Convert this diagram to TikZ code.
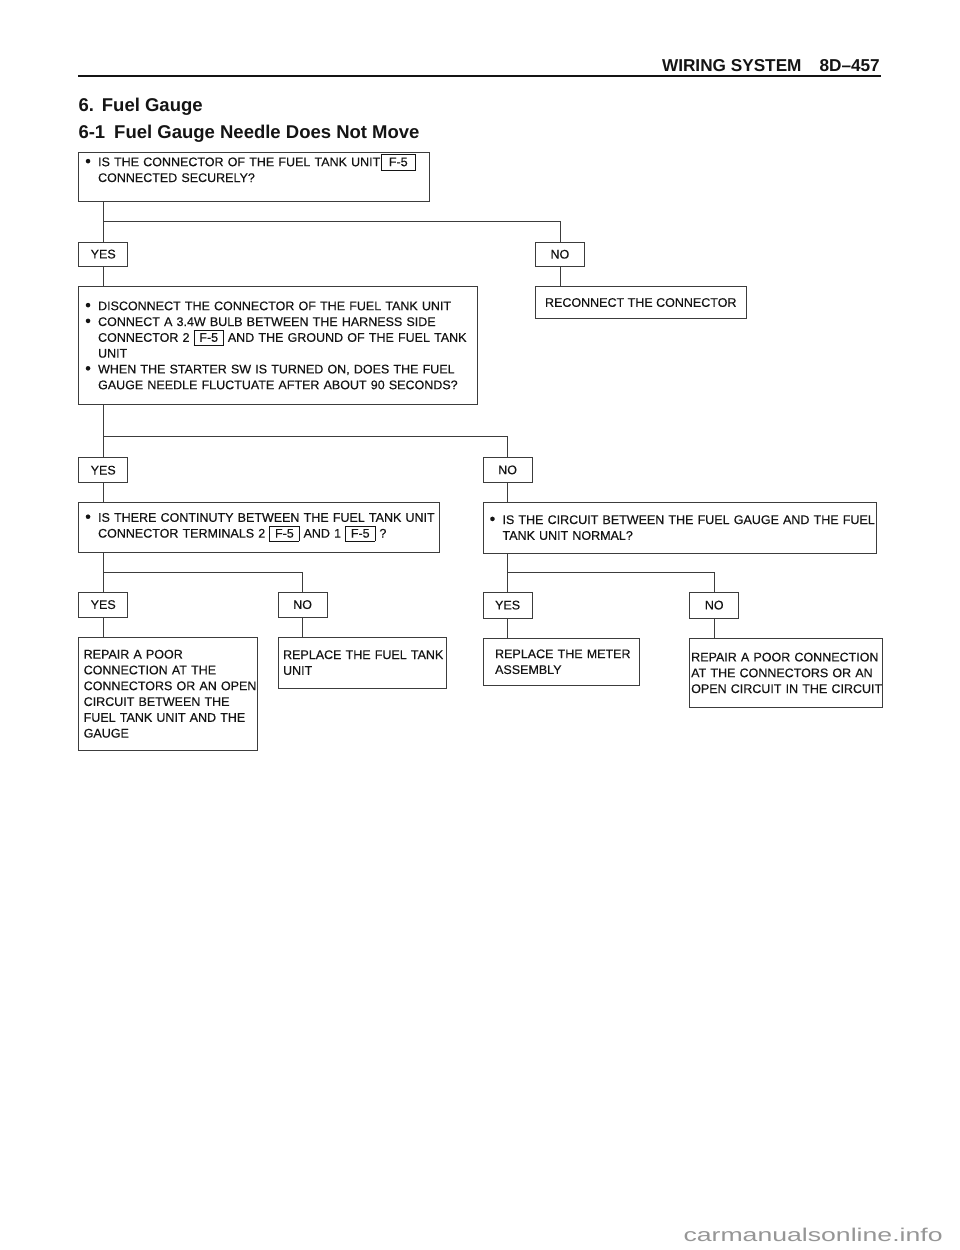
\documentclass[tikz,border=0pt]{standalone}
\usepackage{fontspec}
\setmainfont{Liberation Sans}
\newfontface\boxface{Liberation Sans}[FakeBold=0.3]
\newfontfamily\markfont[FakeStretch=1.44]{Liberation Sans}
\definecolor{fcLine}{RGB}{60,60,60}
\definecolor{fcText}{RGB}{20,20,20}
\definecolor{fcMark}{RGB}{150,150,150}

\newcommand{\boxfont}{\boxface\fontsize{12.5}{15.8}\selectfont}
\newcommand{\fcon}[2][25.8pt]{{\fboxsep=1.5pt\fboxrule=0.6pt\fbox{\rule[-2pt]{0pt}{12pt}\makebox[#1]{#2}}}}
\newcommand{\bul}[1]{\mbox{\makebox[14.4pt][l]{\hspace{1.5pt}\raisebox{-0.3pt}{\scalebox{1.3}{\textbullet}}}#1}}
\newcommand{\ind}[1]{\mbox{\hspace*{14.4pt}#1}}

\tikzset{
  fcbox/.style={draw=fcLine, line width=0.8pt, anchor=north west, inner xsep=5pt, inner ysep=0pt, align=left, font=\boxfont, text=fcText},
  fcans/.style={draw=fcLine, line width=0.8pt, anchor=north west, minimum width=49pt, minimum height=25pt, inner sep=0pt, font=\boxfont, text=fcText},
  fcline/.style={draw=fcLine, line width=0.8pt},
}

\begin{document}
\begin{tikzpicture}[x=1pt, y=-1pt]
  \fill[white] (0,0) rectangle (960,1250);
  \useasboundingbox (0,0) rectangle (960,1250);

  % Page header and titles
  \node[anchor=base east, inner sep=0pt, text=fcText, font=\bfseries\fontsize{17.2}{19}\selectfont] (head) at (880,71.7) {WIRING SYSTEM\hspace{18pt}8D–457};
  \draw[fcText, line width=2pt] (78.3,76) -- (880.7,76);
  \node[anchor=base west, inner sep=0pt, text=fcText, font=\bfseries\fontsize{18.5}{20}\selectfont] (sec) at (78.3,111.7) {6.\hspace{8pt}Fuel Gauge};
  \node[anchor=base west, inner sep=0pt, text=fcText, font=\bfseries\fontsize{18.5}{20}\selectfont] (sub) at (78.3,138.3) {6-1\hspace{9pt}Fuel Gauge Needle Does Not Move};

  % Step 1: connector check
  \node[fcbox, text width=340.7pt, minimum height=49.7pt] (q1) at (78.3,151.7) {\bul{IS THE CONNECTOR OF THE FUEL TANK UNIT\hspace{0.5pt}\fcon[30.8pt]{F-5}}\\ \ind{CONNECTED SECURELY?}\\[2pt]\mbox{}};
  \node[fcans, minimum height=24pt] (y1) at (78.3,241.7) {YES};
  \node[fcans, minimum height=24.3pt] (n1) at (535,241.7) {NO};
  \node[fcans, minimum width=210.7pt, minimum height=32.3pt] (r1) at (535,286) {RECONNECT THE CONNECTOR};
  \coordinate (b1) at (0,221);
  \draw[fcline] (q1.south -| y1.north) -- (y1.north);
  \draw[fcline] (b1 -| y1.north) -| (n1.north);
  \draw[fcline] (y1.south) -- (y1.south |- r1.north);
  \draw[fcline] (n1.south) -- (r1.north -| n1.south);

  % Step 2: bulb test
  \node[fcbox, text width=389pt, minimum height=118pt] (q2) at (78.3,286) {\bul{DISCONNECT THE CONNECTOR OF THE FUEL TANK UNIT}\\
    \bul{CONNECT A 3.4W BULB BETWEEN THE HARNESS SIDE}\\
    \ind{CONNECTOR 2 \fcon{F-5} AND THE GROUND OF THE FUEL TANK}\\
    \ind{UNIT}\\
    \bul{WHEN THE STARTER SW IS TURNED ON, DOES THE FUEL}\\
    \ind{GAUGE NEEDLE FLUCTUATE AFTER ABOUT 90 SECONDS?}};
  \node[fcans] (y2) at (78.3,457.3) {YES};
  \node[fcans, minimum height=25.6pt] (n2) at (482.7,456.7) {NO};
  \coordinate (b2) at (0,436.7);
  \draw[fcline] (q2.south -| y2.north) -- (y2.north);
  \draw[fcline] (b2 -| y2.north) -| (n2.north);

  % Step 3: continuity and circuit checks
  \node[fcbox, text width=350.7pt, minimum height=50.6pt] (q3) at (78.3,501.7) {\bul{IS THERE CONTINUTY BETWEEN THE FUEL TANK UNIT}\\
    \ind{CONNECTOR TERMINALS 2 \fcon{F-5} AND 1 \fcon{F-5} ?}};
  \node[fcbox, text width=383pt, minimum height=51pt] (q4) at (482.7,501.7) {\bul{IS THE CIRCUIT BETWEEN THE FUEL GAUGE AND THE FUEL}\\
    \ind{TANK UNIT NORMAL?}};
  \draw[fcline] (y2.south) -- (y2.south |- q3.north);
  \draw[fcline] (n2.south) -- (n2.south |- q4.north);

  \node[fcans] (y3) at (78.3,591.7) {YES};
  \node[fcans] (n3) at (277.7,591.7) {NO};
  \node[fcans, minimum height=26pt] (y4) at (482.7,591.7) {YES};
  \node[fcans, minimum height=26pt] (n4) at (689.3,591.7) {NO};
  \coordinate (b3) at (0,572.3);
  \coordinate (b4) at (0,572.7);
  \draw[fcline] (q3.south -| y3.north) -- (y3.north);
  \draw[fcline] (b3 -| y3.north) -| (n3.north);
  \draw[fcline] (q4.south -| y4.north) -- (y4.north);
  \draw[fcline] (b4 -| y4.north) -| (n4.north);

  % Repairs
  \node[fcbox, text width=168.4pt, minimum height=113.3pt] (r2) at (78.3,636.7) {\mbox{REPAIR A POOR}\\ \mbox{CONNECTION AT THE}\\ \mbox{CONNECTORS OR AN OPEN}\\ \mbox{CIRCUIT BETWEEN THE}\\ \mbox{FUEL TANK UNIT AND THE}\\ \mbox{GAUGE}};
  \node[fcbox, text width=158.3pt, minimum height=51pt] (r3) at (277.7,636.7) {\mbox{REPLACE THE FUEL TANK}\\ \mbox{UNIT}};
  \node[fcbox, inner xsep=12pt, text width=132.6pt, minimum height=47.3pt] (r4) at (482.7,637.7) {\mbox{REPLACE THE METER}\\ \mbox{ASSEMBLY}};
  \node[fcbox, inner xsep=1.5pt, text width=189.4pt, minimum height=69.6pt] (r5) at (689.3,637.7) {\mbox{REPAIR A POOR CONNECTION}\\ \mbox{AT THE CONNECTORS OR AN}\\ \mbox{OPEN CIRCUIT IN THE CIRCUIT}};
  \draw[fcline] (y3.south) -- (y3.south |- r2.north);
  \draw[fcline] (n3.south) -- (n3.south |- r3.north);
  \draw[fcline] (y4.south) -- (y4.south |- r4.north);
  \draw[fcline] (n4.south) -- (n4.south |- r5.north);

  % Watermark
  \node[anchor=base west, inner sep=0pt, text=fcMark, font=\markfont\fontsize{18.5}{20}\selectfont] (mark) at (683.3,1241) {carmanualsonline.info};
\end{tikzpicture}
\end{document}
